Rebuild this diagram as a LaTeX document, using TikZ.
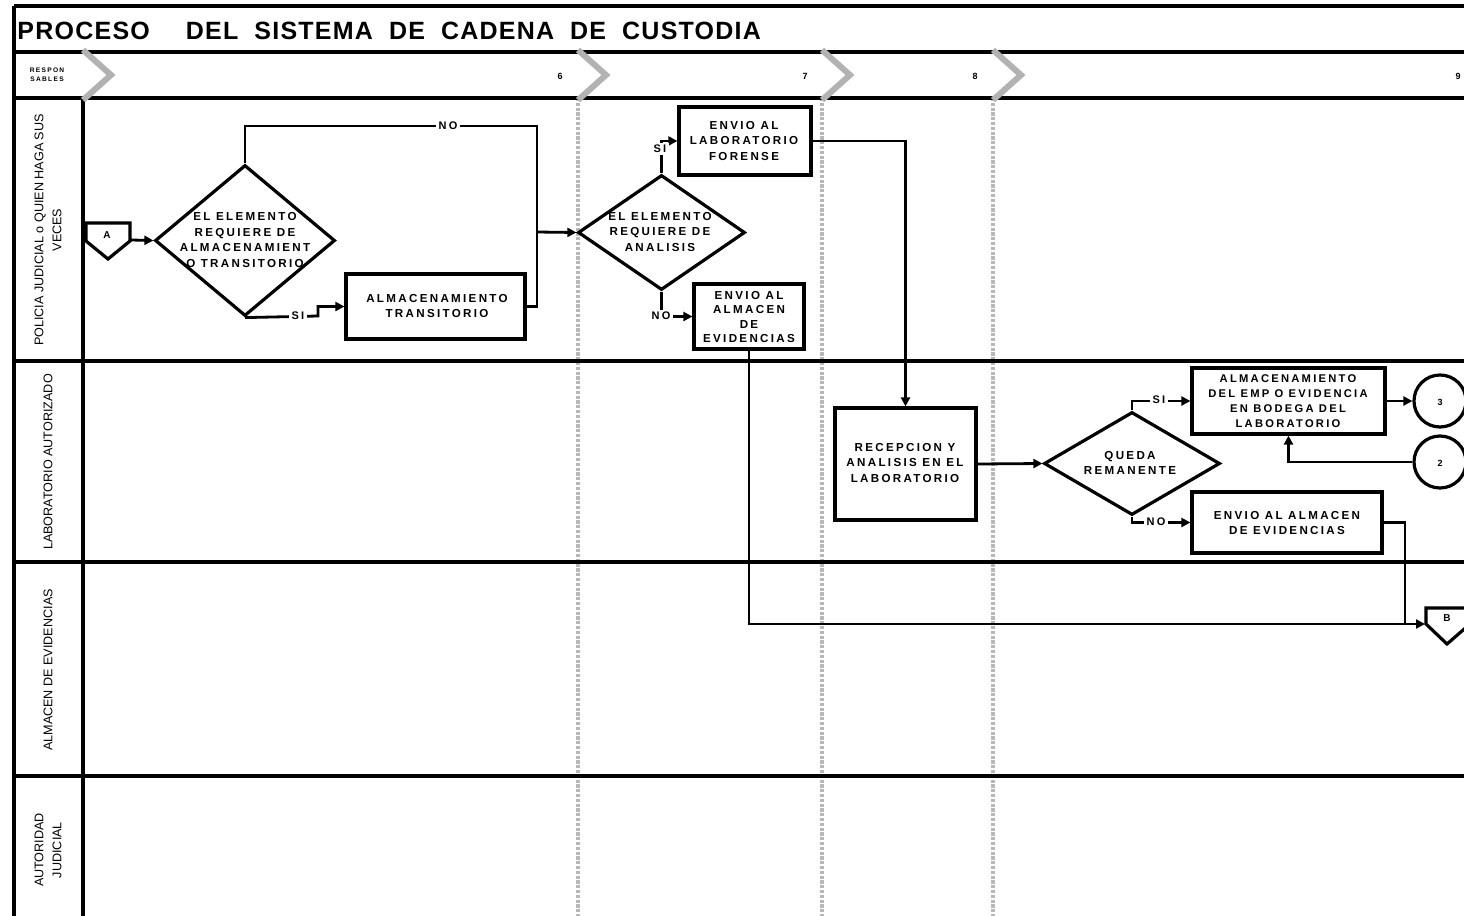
\documentclass[tikz,border=0pt]{standalone}
\usepackage{fontspec}
\setmainfont{Liberation Sans}
\newfontfamily\boxfont{Liberation Sans}[LetterSpace=20]
\newfontfamily\titlefont{Liberation Sans}[LetterSpace=5]
\newfontfamily\lanefont{Liberation Sans}
\usetikzlibrary{shapes.geometric,arrows.meta}
\tikzset{
  frame/.style={line width=1.9pt},
  guide/.style={black!28, line width=2.2pt, dash pattern=on 1.6pt off 0.8pt},
  chev/.style={black!30, line width=3pt},
  boxnode/.style={draw, line width=1.6pt, rectangle, inner sep=0pt},
  dia/.style={draw, line width=1.6pt, diamond, inner sep=0pt},
  txt/.style={font=\boxfont\bfseries\fontsize{5.8}{7.8}\selectfont, align=center, inner sep=0pt},
  conn/.style={line width=1.4pt, -{Triangle[length=4.5pt,width=4.5pt]}},
  wire/.style={line width=1.4pt},
  lbl/.style={font=\boxfont\bfseries\fontsize{5.5}{6}\selectfont, fill=white, inner sep=1.2pt},
  lanetxt/.style={font=\lanefont\fontsize{6.3}{9}\selectfont, rotate=90, align=center, inner sep=0pt},
  circ/.style={draw, circle, line width=1.6pt, minimum size=26pt, inner sep=0pt},
  numtxt/.style={font=\bfseries\fontsize{4.5}{5}\selectfont, inner sep=0pt},
  offpage/.style={line width=1.6pt}
}
\begin{document}
\begin{tikzpicture}[x=0.5pt,y=-0.5pt]
\clip (0,0) rectangle (1464,916);
\fill[white] (0,0) rectangle (1464,916);

% grey guide lines
\foreach \x in {578,822,993} \draw[guide] (\x,98) -- (\x,920);

% frame
\draw[frame] (14,6) -- (1470,6);
\draw[frame] (14,52) -- (1470,52);
\draw[frame] (14,98) -- (1470,98);
\draw[frame] (14,361) -- (1470,361);
\draw[frame] (14,562) -- (1470,562);
\draw[frame] (14,776) -- (1470,776);
\draw[frame] (14,6) -- (14,920);
\draw[frame] (83,98) -- (83,920);

% chevrons
\foreach \x in {83,578,822,993} \draw[chev] (\x,50) -- (\x+28,75) -- (\x,100);

% title and header
\node[anchor=base west, font=\titlefont\bfseries\fontsize{12.5}{14}\selectfont, inner sep=0pt] (title) at (17,39)
  {PROCESO\hspace{18pt}DEL\hspace{8pt}SISTEMA\hspace{8pt}DE\hspace{8pt}CADENA\hspace{8pt}DE\hspace{8pt}CUSTODIA};
\node[font=\boxfont\bfseries\fontsize{3.3}{4.5}\selectfont, align=center, inner sep=0pt] (resp) at (47,75) {RESPON\\SABLES};
\node[numtxt] (n6) at (560,76) {6};
\node[numtxt] (n7) at (805,76) {7};
\node[numtxt] (n8) at (975,76) {8};
\node[numtxt] (n9) at (1458,76) {9};

% lane labels
\node[lanetxt] (l1) at (48,230) {POLICIA JUDICIAL o QUIEN HAGA SUS\\VECES};
\node[lanetxt] (l2) at (48,462) {LABORATORIO AUTORIZADO};
\node[lanetxt] (l3) at (48,670) {ALMACEN DE EVIDENCIAS};
\node[lanetxt] (l4) at (48,850) {AUTORIDAD\\JUDICIAL};

% off-page connector A
\node[font=\bfseries\fontsize{5}{6}\selectfont, inner sep=0pt] (A) at (107,235) {A};
\draw[offpage] (86,223) -- (130,223) -- (130,241) -- (108,259) -- (86,241) -- cycle;
\coordinate (Aout) at (131,240);

% off-page connector B
\node[font=\bfseries\fontsize{5}{6}\selectfont, inner sep=0pt] (B) at (1447,618) {B};
\draw[offpage] (1426,608) -- (1470,608) -- (1470,624) -- (1447,644) -- (1426,624) -- cycle;
\coordinate (Bin) at (1425,624);

% decisions
\node[dia, minimum width=90pt, minimum height=75.5pt] (d1) at (245,240.5) {};
\node[txt] at (245,240) {EL ELEMENTO\\REQUIERE DE\\ALMACENAMIENT\\O TRANSITORIO};
\node[dia, minimum width=83.5pt, minimum height=57.5pt] (d2) at (661.5,232.5) {};
\node[txt] at (660,232) {EL ELEMENTO\\REQUIERE DE\\ANALISIS};
\node[dia, minimum width=88pt, minimum height=51.5pt] (d3) at (1132,463.5) {};
\node[txt] at (1130,463) {QUEDA\\REMANENTE};

% boxes
\node[boxnode, minimum width=89.5pt, minimum height=32.5pt] (t) at (435.5,306.5) {};
\node[txt] at (437,306) {ALMACENAMIENTO\\TRANSITORIO};
\node[boxnode, minimum width=66pt, minimum height=34pt] (lab) at (745,141) {};
\node[txt] at (744,141) {ENVIO AL\\LABORATORIO\\FORENSE};
\node[boxnode, minimum width=55pt, minimum height=32.5pt] (evid) at (749,316.5) {};
\node[txt, font=\boxfont\bfseries\fontsize{5.8}{7.3}\selectfont] at (749,317) {ENVIO AL\\ALMACEN\\DE\\EVIDENCIAS};
\node[boxnode, minimum width=70.5pt, minimum height=56pt] (rec) at (905.5,464) {};
\node[txt] at (905,463) {RECEPCION Y\\ANALISIS EN EL\\LABORATORIO};
\node[boxnode, minimum width=96.5pt, minimum height=33pt] (alm) at (1288.5,401) {};
\node[txt, font=\boxfont\bfseries\fontsize{5.6}{7.6}\selectfont] at (1288,401) {ALMACENAMIENTO\\DEL EMP O EVIDENCIA\\EN BODEGA DEL\\LABORATORIO};
\node[boxnode, minimum width=95pt, minimum height=30.5pt] (env) at (1287,522.5) {};
\node[txt] at (1287,523) {ENVIO AL ALMACEN\\DE EVIDENCIAS};

% connectors circles
\node[circ] (c3) at (1440,401) {};
\node[numtxt] at (1440,402) {3};
\node[circ] (c2) at (1440,462) {};
\node[numtxt] at (1440,463) {2};

% connectors
\coordinate (j1) at (537,232);
\draw[conn] (Aout) -- (d1.west);
\draw[wire] (d1.north) |- (537,126) -- (j1);
\draw[wire] (t.east) -| (j1);
\draw[conn] (j1) -- (d2.west);
\node[lbl] (no1) at (448,126) {NO};
\draw[conn] (d1.south) -- (318,316) |- (t.west);
\node[lbl] (si1) at (298,316) {SI};
\draw[conn] (d2.north) |- (lab.west);
\node[lbl] (si2) at (660,149) {SI};
\draw[conn] (d2.south) |- (evid.west);
\node[lbl] (no2) at (661,316) {NO};
\draw[conn] (lab.east) -| (rec.north);
\draw[conn] (evid.south) |- (Bin);
\draw[conn] (rec.east) -- (d3.west);
\draw[conn] (d3.north) |- (alm.west);
\node[lbl] (si3) at (1159,400) {SI};
\draw[conn] (alm.east) -- (c3.west);
\draw[conn] (c2.west) -| (alm.south);
\draw[conn] (d3.south) |- (env.west);
\node[lbl] (no3) at (1156,522) {NO};
\draw[wire] (env.east) -| (1405,624);
\end{tikzpicture}
\end{document}
